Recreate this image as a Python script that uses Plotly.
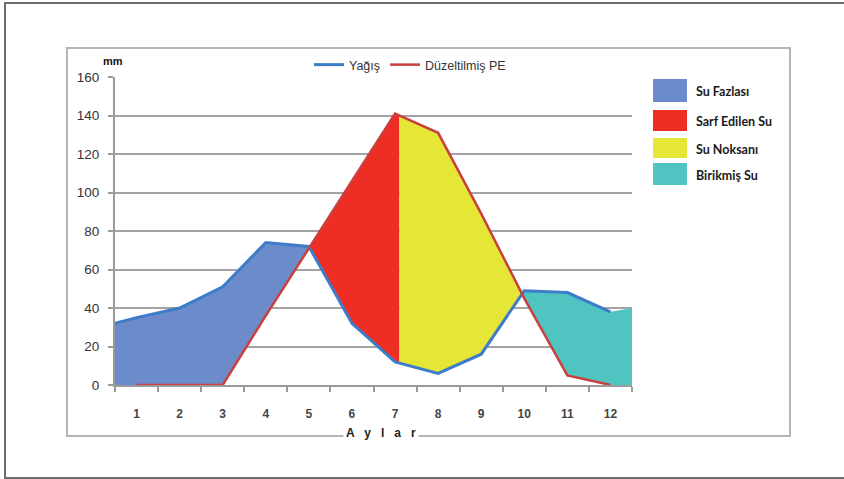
import numpy as np
import plotly.graph_objects as go

# ---- data ----
months = list(range(1, 13))
month_labels = [str(m) for m in months]
yagis = [35, 40, 51, 74, 72, 32, 12, 6, 16, 49, 48, 38]          # Yağış (mm)
pe = [0, 0, 0, 36, 71, 106, 141, 131, 89, 45, 5, 0]              # Düzeltilmiş PE (mm)
yagis_start = 32      # Yağış value at left edge of plot
birikmis_end = 40     # top of "Birikmiş Su" at right edge
y_ticks = [0, 20, 40, 60, 80, 100, 120, 140, 160]

region_names = ["Su Fazlası", "Sarf Edilen Su", "Su Noksanı", "Birikmiş Su"]
region_colors = ["#6b8bca", "#ee2d24", "#e6e636", "#4fc4c0"]

X0, X1 = 0.5, 12.5
split_month = 7.1

# ---- helpers ----
yx = [X0] + months
yy = [yagis_start] + yagis
px_ = months
py_ = pe


def crossings(a, b, xs):
    d = np.array(a) - np.array(b)
    out = []
    for i in range(len(d) - 1):
        if d[i] * d[i + 1] < 0:
            t = d[i] / (d[i] - d[i + 1])
            out.append(xs[i] + t * (xs[i + 1] - xs[i]))
    return out


c = crossings(yagis, pe, months)
c1, c2 = c[0], c[1]


def band(x0, x1, tx, ty, bx, by):
    xt = [x0] + [x for x in tx if x0 < x < x1] + [x1]
    yt = list(np.interp(xt, tx, ty))
    xb = [x0] + [x for x in bx if x0 < x < x1] + [x1]
    yb = list(np.interp(xb, bx, by))
    return xt + xb[::-1] + [xt[0]], yt + yb[::-1] + [yt[0]]


regions = [
    band(X0, c1, yx, yy, px_, py_),
    band(c1, split_month, px_, py_, yx, yy),
    band(split_month, c2, px_, py_, yx, yy),
    band(c2, X1, yx + [X1], yy + [birikmis_end], px_ + [X1], py_ + [0]),
]

fig = go.Figure()
for (rx, ry), name, col in zip(regions, region_names, region_colors):
    fig.add_trace(go.Scatter(x=rx, y=ry, fill="toself", fillcolor=col, mode="lines",
                             line=dict(width=0, color=col), name=name,
                             showlegend=False, hoverinfo="skip"))

fig.add_trace(go.Scatter(x=yx, y=yy, mode="lines", name="Yağış",
                         line=dict(color="#3d7cc9", width=3)))
fig.add_trace(go.Scatter(x=months, y=pe, mode="lines", name="Düzeltilmiş PE",
                         line=dict(color="#c9413e", width=2.5)))

# ---- pixel -> paper helpers ----
L, R, T, B = 115, 632, 77, 385
W, H = 844, 479


def fx(p):
    return (p - L) / (R - L)


def fy(p):
    return (B - p) / (B - T)


shapes = [
    dict(type="rect", xref="paper", yref="paper", x0=fx(5), x1=fx(860), y0=fy(478), y1=fy(3),
         line=dict(color="#6e6e6e", width=2), layer="below"),
    dict(type="rect", xref="paper", yref="paper", x0=fx(67), x1=fx(790), y0=fy(436), y1=fy(48),
         line=dict(color="#b5b5b5", width=2), layer="below"),
]
annotations = [
    dict(text="<b>mm</b>", xref="paper", yref="paper", x=fx(113), y=fy(61), showarrow=False,
         xanchor="center", yanchor="middle",
         font=dict(family="Liberation Sans", size=11, color="#111")),
    dict(text="<b>A   y   l   a   r</b>", xref="paper", yref="paper", x=fx(381), y=fy(433),
         xanchor="center", yanchor="middle",
         showarrow=False, bgcolor="white", borderpad=2,
         font=dict(family="Liberation Sans", size=12, color="#222")),
]

sq_tops = [79, 110, 138, 163]
sq_bots = [102, 131, 158, 185]
for name, col, t, b in zip(region_names, region_colors, sq_tops, sq_bots):
    shapes.append(dict(type="rect", xref="paper", yref="paper", x0=fx(653), x1=fx(687),
                       y0=fy(b), y1=fy(t), fillcolor=col, line=dict(width=0)))
    annotations.append(dict(text="<b>" + name + "</b>", xref="paper", yref="paper",
                            x=fx(694), y=fy((t + b) / 2 + 1), xanchor="left", yanchor="middle",
                            showarrow=False,
                            font=dict(family="Lato", size=12.5, color="#1a1a1a")))

fig.update_layout(
    width=W, height=H,
    margin=dict(l=L, r=W - R, t=T, b=H - B),
    paper_bgcolor="white", plot_bgcolor="white",
    font=dict(family="Liberation Sans", color="#333"),
    shapes=shapes, annotations=annotations,
    legend=dict(orientation="h", x=fx(309), y=fy(65), xanchor="left", yanchor="middle",
                font=dict(size=12.5, color="#333"), bgcolor="rgba(0,0,0,0)",
                itemwidth=30, tracegroupgap=0),
    xaxis=dict(range=[X0, X1], tickvals=months, ticktext=month_labels, ticks="",
               showgrid=False, zeroline=False, showline=True, linecolor="#9a9a9a", linewidth=2,
               tickfont=dict(size=12, color="#444", weight="bold"), ticklabelstandoff=17,
               minor=dict(tickvals=[m - 0.5 for m in months] + [X1], ticks="outside",
                          ticklen=5, tickcolor="#9a9a9a", tickwidth=1.5, showgrid=False)),
    yaxis=dict(range=[0, 160], tickvals=y_ticks, ticks="outside", ticklen=5,
               tickcolor="#9a9a9a", tickwidth=1.5, showgrid=True, gridcolor="#a3a3a3",
               gridwidth=1.5, zeroline=False, showline=True, linecolor="#9a9a9a", linewidth=2,
               tickfont=dict(size=13.5, color="#333"), ticklabelstandoff=6),
)

fig.write_html("out.html", config={"displayModeBar": False})

# remove the default page margin so the figure sits at the window's top-left corner
with open("out.html", "r", encoding="utf-8") as f:
    html = f.read()
html = html.replace("<head>", "<head><style>html,body{margin:0;padding:0;overflow:hidden;}</style>", 1)
with open("out.html", "w", encoding="utf-8") as f:
    f.write(html)
